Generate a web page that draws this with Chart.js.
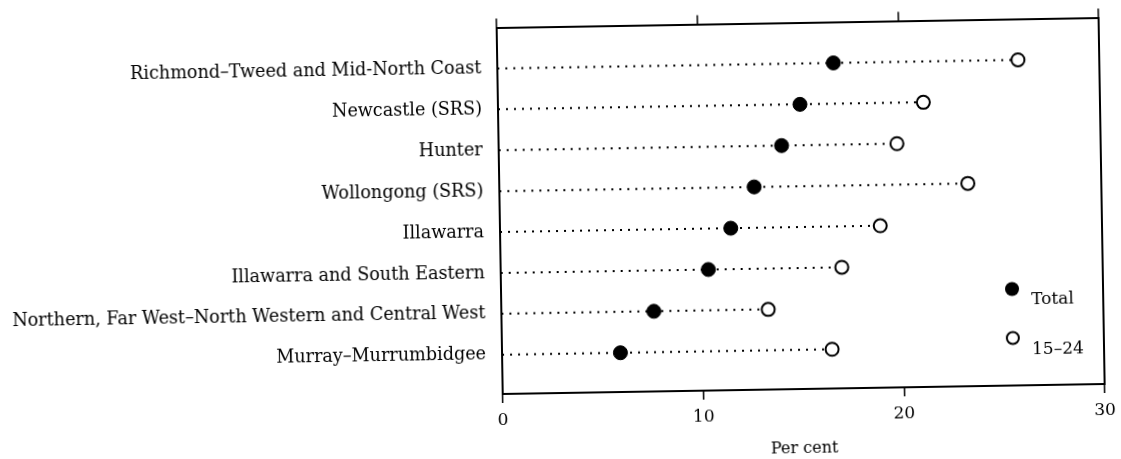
<!DOCTYPE html>
<html>
<head>
<meta charset="utf-8">
<script src="https://cdn.jsdelivr.net/npm/chart.js@4.4.1/dist/chart.umd.min.js"></script>
<style>
  html, body { margin: 0; padding: 0; background: #fff; overflow: hidden; }
  #wrap { width: 1121px; height: 459px; }
  /* the reference scan is tilted by about one degree */
  #c { transform: rotate(-0.95deg); transform-origin: 50% 50%; }
</style>
</head>
<body>
<div id="wrap"><canvas id="c" width="1121" height="459"></canvas></div>
<script>
const categories = [
  "Richmond\u2013Tweed and Mid-North Coast",
  "Newcastle (SRS)",
  "Hunter",
  "Wollongong (SRS)",
  "Illawarra",
  "Illawarra and South Eastern",
  "Northern, Far West\u2013North Western and Central West",
  "Murray\u2013Murrumbidgee"
];
const totalValues = [16.75, 15.05, 14.1, 12.7, 11.5, 10.35, 7.6, 5.9];
const youthValues = [25.95, 21.2, 19.85, 23.35, 18.95, 17.0, 13.3, 16.45];
const xTickValues = [0, 10, 20, 30];
const seriesNames = ["Total", "15\u201324"];

const FONT = "'DejaVu Serif', 'Liberation Serif', serif";

const lineSets = categories.map((c, i) => ({
  label: "line-" + i,
  data: [{x: 0, y: i + 1}, {x: youthValues[i], y: i + 1}],
  showLine: true,
  borderColor: "#000",
  borderWidth: 2,
  borderDash: [2, 6],
  pointRadius: 0,
  order: 10
}));

const totalSet = {
  label: seriesNames[0],
  data: totalValues.map((v, i) => ({x: v, y: i + 1})),
  pointRadius: 7,
  pointBackgroundColor: "#000",
  pointBorderColor: "#000",
  pointBorderWidth: 1,
  order: 0
};
const youthSet = {
  label: seriesNames[1],
  data: youthValues.map((v, i) => ({x: v, y: i + 1})),
  pointRadius: 6.5,
  pointBackgroundColor: "#fff",
  pointBorderColor: "#000",
  pointBorderWidth: 2,
  order: 0
};

const legendPlugin = {
  id: "insideLegend",
  afterDraw(chart) {
    const ctx = chart.ctx;
    const a = chart.chartArea;
    const cx = a.right - 91;
    ctx.save();
    ctx.fillStyle = "#000";
    ctx.strokeStyle = "#000";
    ctx.beginPath();
    ctx.arc(cx, a.top + 270, 7, 0, Math.PI * 2);
    ctx.fill();
    ctx.lineWidth = 2;
    ctx.beginPath();
    ctx.fillStyle = "#fff";
    ctx.arc(cx, a.top + 319, 6, 0, Math.PI * 2);
    ctx.fill();
    ctx.stroke();
    ctx.fillStyle = "#000";
    ctx.font = "17px " + FONT;
    ctx.textAlign = "left";
    ctx.textBaseline = "middle";
    ctx.fillText(seriesNames[0], cx + 19, a.top + 281);
    ctx.fillText(seriesNames[1], cx + 19, a.top + 331);
    ctx.restore();
  }
};

new Chart(document.getElementById("c"), {
  type: "scatter",
  data: { datasets: [totalSet, youthSet, ...lineSets] },
  options: {
    responsive: false,
    animation: false,
    layout: { padding: { left: 0, right: 19, top: 0, bottom: 0 } },
    plugins: { legend: { display: false }, tooltip: { enabled: false } },
    scales: {
      x: {
        type: "linear", position: "bottom", min: 0, max: 30,
        afterBuildTicks: s => { s.ticks = xTickValues.map(v => ({value: v})); },
        afterFit: s => { s.height = 66; },
        ticks: { color: "#000", font: { family: FONT, size: 17 }, padding: 7 },
        grid: { drawOnChartArea: false, drawTicks: true, tickLength: 9, color: "#000", lineWidth: 1.5 },
        border: { color: "#000", width: 2 },
        title: { display: true, text: "Per cent", color: "#000", font: { family: FONT, size: 16 }, padding: { top: 4, bottom: -3 } }
      },
      xTop: {
        type: "linear", position: "top", min: 0, max: 30,
        afterBuildTicks: s => { s.ticks = xTickValues.map(v => ({value: v})); },
        afterFit: s => { s.height = 18; },
        ticks: { display: false },
        grid: { drawOnChartArea: false, drawTicks: true, tickLength: 9, color: "#000", lineWidth: 1.5 },
        border: { color: "#000", width: 2 }
      },
      y: {
        type: "linear", position: "left", reverse: true, min: 0, max: 8.96,
        afterBuildTicks: s => { s.ticks = categories.map((c, i) => ({value: i + 1})); },
        afterFit: s => { s.width = 500; },
        ticks: {
          color: "#000", font: { family: FONT, size: 17.6 }, padding: 16,
          callback: v => categories[v - 1]
        },
        grid: { drawOnChartArea: false, drawTicks: false },
        border: { color: "#000", width: 2 }
      },
      yRight: {
        type: "linear", position: "right", reverse: true, min: 0, max: 8.96,
        afterFit: s => { s.width = 0; },
        ticks: { display: false },
        grid: { drawOnChartArea: false, drawTicks: false },
        border: { color: "#000", width: 2 }
      }
    }
  },
  plugins: [legendPlugin]
});
</script>
</body>
</html>
